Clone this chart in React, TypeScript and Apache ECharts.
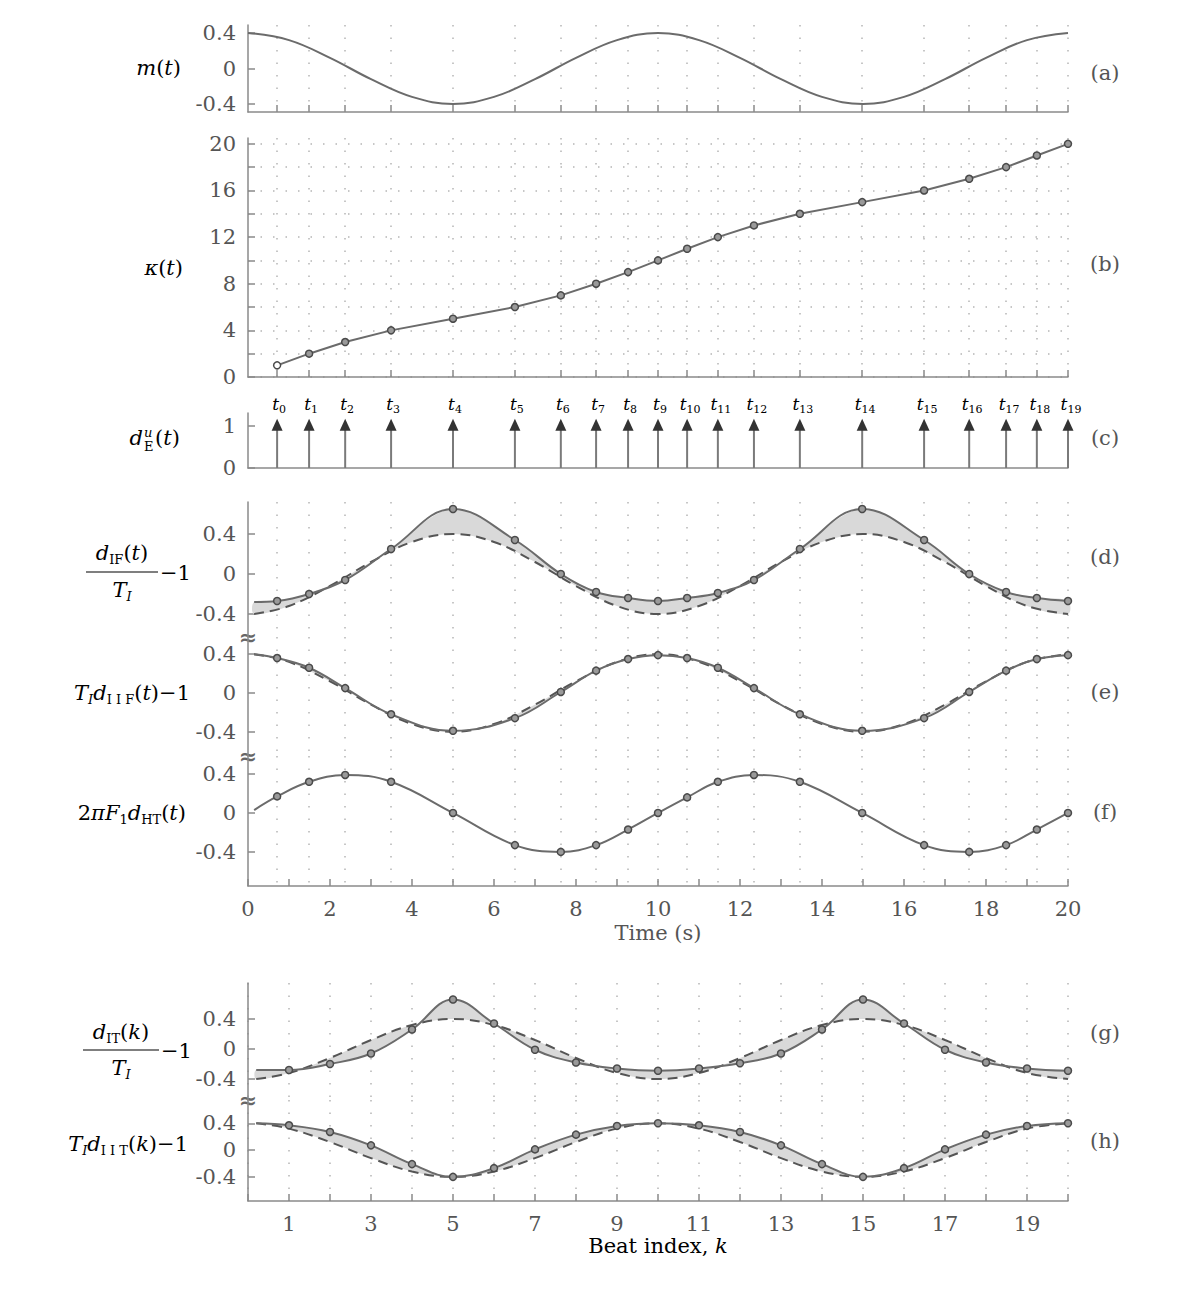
import React, { useEffect, useRef } from "react";
import * as echarts from "echarts";

// ---------------- data ----------------
const beatTimes = [0.71, 1.49, 2.37, 3.49, 5.0, 6.51, 7.63, 8.49, 9.27, 10.0, 10.71, 11.46, 12.34, 13.46, 14.98, 16.49, 17.59, 18.49, 19.24, 20.0];
const beatLabelSubs = ["0", "1", "2", "3", "4", "5", "6", "7", "8", "9", "10", "11", "12", "13", "14", "15", "16", "17", "18", "19"];
const kappaValues = [1, 2, 3, 4, 5, 6, 7, 8, 9, 10, 11, 12, 13, 14, 15, 16, 17, 18, 19, 20];
const eventValues = [1, 1, 1, 1, 1, 1, 1, 1, 1, 1, 1, 1, 1, 1, 1, 1, 1, 1, 1, 1];

// modulating signal m(t), read at whole seconds
const modTimes = [0, 1, 2, 3, 4, 5, 6, 7, 8, 9, 10, 11, 12, 13, 14, 15, 16, 17, 18, 19, 20];
const modValues = [0.4, 0.32, 0.12, -0.12, -0.32, -0.4, -0.32, -0.12, 0.12, 0.32, 0.4, 0.32, 0.12, -0.12, -0.32, -0.4, -0.32, -0.12, 0.12, 0.32, 0.4];
// dashed reference curves in panels (d)-(h)
const curveTimes = [0.15, 1, 2, 3, 4, 5, 6, 7, 8, 9, 10, 11, 12, 13, 14, 15, 16, 17, 18, 19, 20];
const dashedPos = [0.4, 0.32, 0.12, -0.12, -0.32, -0.4, -0.32, -0.12, 0.12, 0.32, 0.4, 0.32, 0.12, -0.12, -0.32, -0.4, -0.32, -0.12, 0.12, 0.32, 0.4];
const dashedNeg = [-0.4, -0.32, -0.12, 0.12, 0.32, 0.4, 0.32, 0.12, -0.12, -0.32, -0.4, -0.32, -0.12, 0.12, 0.32, 0.4, 0.32, 0.12, -0.12, -0.32, -0.4];

const curveStart = 0.15;
const dIFStart = -0.28;
const dIFValues = [-0.27, -0.2, -0.06, 0.25, 0.65, 0.34, 0.0, -0.18, -0.24, -0.27, -0.24, -0.19, -0.06, 0.25, 0.65, 0.34, 0.0, -0.18, -0.24, -0.27];
const dIIFStart = 0.4;
const dIIFValues = [0.36, 0.26, 0.05, -0.22, -0.39, -0.26, 0.01, 0.23, 0.35, 0.39, 0.36, 0.26, 0.05, -0.22, -0.39, -0.26, 0.01, 0.23, 0.35, 0.39];
const dHTStart = 0.03;
const dHTValues = [0.17, 0.32, 0.39, 0.32, 0.0, -0.33, -0.4, -0.33, -0.17, 0.0, 0.16, 0.32, 0.39, 0.32, 0.0, -0.33, -0.4, -0.33, -0.17, 0.0];

const beatIndex = [1, 2, 3, 4, 5, 6, 7, 8, 9, 10, 11, 12, 13, 14, 15, 16, 17, 18, 19, 20];
const kStart = 0.2;
const dITStart = -0.28;
const dITValues = [-0.28, -0.2, -0.06, 0.26, 0.66, 0.34, -0.01, -0.18, -0.26, -0.29, -0.26, -0.19, -0.06, 0.26, 0.66, 0.34, -0.01, -0.18, -0.26, -0.29];
const dIITStart = 0.4;
const dIITValues = [0.37, 0.27, 0.07, -0.21, -0.4, -0.27, 0.01, 0.23, 0.36, 0.4, 0.37, 0.27, 0.07, -0.21, -0.4, -0.27, 0.01, 0.23, 0.36, 0.4];
const kDashedTimes = [0.2, 1, 2, 3, 4, 5, 6, 7, 8, 9, 10, 11, 12, 13, 14, 15, 16, 17, 18, 19, 20];

// tick values / labels
const smallTicks = [-0.4, 0, 0.4];
const kappaTicks = [0, 2, 4, 6, 8, 10, 12, 14, 16, 18, 20];
const kappaLabels = [0, 4, 8, 12, 16, 20];
const eventTicks = [0, 1];
const secondTicks = [0, 1, 2, 3, 4, 5, 6, 7, 8, 9, 10, 11, 12, 13, 14, 15, 16, 17, 18, 19, 20];
const secondLabels = [0, 2, 4, 6, 8, 10, 12, 14, 16, 18, 20];
const kTicks = [0, 1, 2, 3, 4, 5, 6, 7, 8, 9, 10, 11, 12, 13, 14, 15, 16, 17, 18, 19, 20];
const kLabels = [1, 3, 5, 7, 9, 11, 13, 15, 17, 19];
const panelLetters = ["(a)", "(b)", "(c)", "(d)", "(e)", "(f)", "(g)", "(h)"];

// ---------------- styling ----------------
const FONT = "DejaVu Serif";
const TXT = "#555";
const AXIS = "#8a8a8a";
const LINE = "#6b6b6b";
const DOT = { type: [1.5, 11], color: "#b5b5b5", width: 1.5 };
const FS = 21;

const rich: any = {
  i: { fontFamily: FONT, fontStyle: "italic", fontSize: FS, color: TXT },
  n: { fontFamily: FONT, fontSize: FS, color: TXT },
  s: { fontFamily: FONT, fontSize: 13, color: TXT, padding: [13, 0, 0, 0] },
  si: { fontFamily: FONT, fontStyle: "italic", fontSize: 13, color: TXT, padding: [13, 0, 0, 0] },
};
const tRich: any = {
  i: { fontFamily: FONT, fontStyle: "italic", fontSize: 17, color: TXT },
  s: { fontFamily: FONT, fontSize: 11, color: TXT, padding: [11, 0, 0, 0] },
};
const stackRich: any = {
  u: { fontFamily: FONT, fontStyle: "italic", fontSize: 13, color: TXT, lineHeight: 14 },
  e: { fontFamily: FONT, fontSize: 13, color: TXT, lineHeight: 14 },
};

const GRID_LEFT = 248;
const GRID_W = 820;
const panels = [
  { top: 25, height: 87, min: -0.49, max: 0.49 },
  { top: 138, height: 239, min: 0, max: 20.5 },
  { top: 413, height: 55, min: 0, max: 1.3 },
  { top: 502, height: 135, min: -0.63, max: 0.72 },
  { top: 637, height: 119, min: -0.65, max: 0.577 },
  { top: 756, height: 130, min: -0.75, max: 0.585 },
  { top: 983, height: 117, min: -0.68, max: 0.88 },
  { top: 1100, height: 101, min: -0.76, max: 0.747 },
];
const letterY = [73, 264, 438, 557, 692, 812, 1033, 1141];

function fmt(v: number) {
  if (v === 0) return "0";
  return Math.abs(v) < 1 ? v.toFixed(1) : String(v);
}

function yAxisFor(i: number, ticks: number[], labels: number[], split: boolean) {
  const p = panels[i];
  return {
    type: "value",
    gridIndex: i,
    min: p.min,
    max: p.max,
    axisLine: { show: true, lineStyle: { color: AXIS, width: 1.5 } },
    axisTick: { show: true, inside: true, length: 7, customValues: ticks, lineStyle: { color: AXIS, width: 1.5 } },
    axisLabel: { show: true, customValues: labels, formatter: fmt, fontFamily: FONT, fontSize: FS, color: TXT, margin: 12 },
    splitLine: { show: split, lineStyle: DOT },
  };
}

function xAxisFor(i: number, opts: any) {
  return {
    type: "value",
    gridIndex: i,
    min: 0,
    max: 20,
    axisLine: { show: opts.line, onZero: false, lineStyle: { color: AXIS, width: 1.5 } },
    axisTick: { show: opts.tick, inside: true, length: 7, customValues: opts.ticks, lineStyle: { color: AXIS, width: 1.5 } },
    axisLabel: opts.labels
      ? { show: true, customValues: opts.labels, fontFamily: FONT, fontSize: FS, color: TXT, margin: 12 }
      : { show: false },
    splitLine: { show: opts.split, lineStyle: DOT },
  };
}

const markerStyle = { color: "#9a9a9a", borderColor: "#4a4a4a", borderWidth: 1.5 };

function solidSeries(xi: number, startX: number, startY: number, xs: number[], ys: number[]) {
  const data: any[] = [{ value: [startX, startY], symbol: "none" }];
  xs.forEach((x, j) => data.push([x, ys[j]]));
  return {
    type: "line",
    xAxisIndex: xi,
    yAxisIndex: xi,
    data,
    smooth: 0.4,
    symbol: "circle",
    symbolSize: 7,
    itemStyle: markerStyle,
    lineStyle: { color: LINE, width: 2 },
    z: 4,
  };
}

function dashedSeries(xi: number, xs: number[], ys: number[]) {
  return {
    type: "line",
    xAxisIndex: xi,
    yAxisIndex: xi,
    data: xs.map((x, j) => [x, ys[j]]),
    smooth: 0.4,
    showSymbol: false,
    lineStyle: { color: "#555", width: 2, type: [10, 6] },
    z: 3,
  };
}

function fillSeries(xi: number, startX: number, startY: number, xs: number[], ys: number[], dx: number[], dy: number[]) {
  return {
    type: "custom",
    xAxisIndex: xi,
    yAxisIndex: xi,
    data: [[0, 0]],
    silent: true,
    z: 2,
    renderItem: (params: any, api: any) => {
      const upper: number[][] = [api.coord([startX, startY])];
      xs.forEach((x, j) => upper.push(api.coord([x, ys[j]])));
      const lower: number[][] = dx.map((x, j) => api.coord([x, dy[j]])).reverse();
      return {
        type: "polygon",
        shape: { points: upper.concat(lower), smooth: 0.35 },
        style: { fill: "#d9d9d9" },
      };
    },
  };
}

function labelText(x: number, y: number, text: string, align: string, r: any = rich) {
  return { type: "text", x, y, silent: true, style: { text, rich: r, align, verticalAlign: "middle" } };
}

function buildOption() {
  const grid = panels.map((p) => ({ left: GRID_LEFT, width: GRID_W, top: p.top, height: p.height }));

  const xAxis: any[] = [
    xAxisFor(0, { line: true, tick: true, ticks: beatTimes, split: true }),
    xAxisFor(1, { line: true, tick: true, ticks: beatTimes, split: true }),
    xAxisFor(2, { line: true, tick: false, ticks: beatTimes, split: false }),
    xAxisFor(3, { line: false, tick: false, ticks: beatTimes, split: true }),
    xAxisFor(4, { line: false, tick: false, ticks: beatTimes, split: true }),
    xAxisFor(5, { line: true, tick: true, ticks: secondTicks, labels: secondLabels, split: false }),
    xAxisFor(6, { line: false, tick: false, ticks: kTicks, split: true }),
    xAxisFor(7, { line: true, tick: true, ticks: kTicks, labels: kLabels, split: true }),
    // extra axis for the beat-time grid in panel (f)
    xAxisFor(5, { line: false, tick: false, ticks: beatTimes, split: true }),
  ];

  const yAxis: any[] = [
    yAxisFor(0, smallTicks, smallTicks, false),
    yAxisFor(1, kappaTicks, kappaLabels, true),
    yAxisFor(2, eventTicks, eventTicks, false),
    yAxisFor(3, smallTicks, smallTicks, false),
    yAxisFor(4, smallTicks, smallTicks, false),
    yAxisFor(5, smallTicks, smallTicks, false),
    yAxisFor(6, smallTicks, smallTicks, false),
    yAxisFor(7, smallTicks, smallTicks, false),
  ];

  const series: any[] = [
    // (a)
    {
      type: "line",
      xAxisIndex: 0,
      yAxisIndex: 0,
      data: modTimes.map((t, j) => [t, modValues[j]]),
      smooth: 0.4,
      showSymbol: false,
      lineStyle: { color: LINE, width: 2 },
    },
    // (b)
    {
      type: "line",
      xAxisIndex: 1,
      yAxisIndex: 1,
      data: beatTimes.map((t, j) => (j === 0 ? { value: [t, kappaValues[j]], itemStyle: { color: "#fff", borderColor: "#4a4a4a", borderWidth: 1.5 } } : [t, kappaValues[j]])),
      symbol: "circle",
      symbolSize: 7,
      itemStyle: markerStyle,
      lineStyle: { color: LINE, width: 2 },
    },
    // (c) arrows
    {
      type: "custom",
      xAxisIndex: 2,
      yAxisIndex: 2,
      data: beatTimes.map((t, j) => [t, eventValues[j]]),
      clip: false,
      renderItem: (params: any, api: any) => {
        const t = api.value(0);
        const v = api.value(1);
        const p0 = api.coord([t, 0]);
        const p1 = api.coord([t, v]);
        const sub = beatLabelSubs[params.dataIndex];
        return {
          type: "group",
          children: [
            { type: "line", shape: { x1: p0[0], y1: p0[1], x2: p1[0], y2: p1[1] + 4 }, style: { stroke: "#7a7a7a", lineWidth: 2 } },
            {
              type: "polygon",
              shape: { points: [[p1[0], p1[1] - 7], [p1[0] - 5.5, p1[1] + 5], [p1[0] + 5.5, p1[1] + 5]] },
              style: { fill: "#333" },
            },
            {
              type: "text",
              x: p1[0] + (sub.length > 1 ? 3 : 2),
              y: p1[1] - 22,
              style: { text: "{i|t}{s|" + sub + "}", rich: tRich, align: "center", verticalAlign: "middle" },
            },
          ],
        };
      },
    },
    // (d)
    fillSeries(3, curveStart, dIFStart, beatTimes, dIFValues, curveTimes, dashedNeg),
    dashedSeries(3, curveTimes, dashedNeg),
    solidSeries(3, curveStart, dIFStart, beatTimes, dIFValues),
    // (e)
    fillSeries(4, curveStart, dIIFStart, beatTimes, dIIFValues, curveTimes, dashedPos),
    dashedSeries(4, curveTimes, dashedPos),
    solidSeries(4, curveStart, dIIFStart, beatTimes, dIIFValues),
    // (f)
    solidSeries(5, curveStart, dHTStart, beatTimes, dHTValues),
    // (g)
    fillSeries(6, kStart, dITStart, beatIndex, dITValues, kDashedTimes, dashedNeg),
    dashedSeries(6, kDashedTimes, dashedNeg),
    solidSeries(6, kStart, dITStart, beatIndex, dITValues),
    // (h)
    fillSeries(7, kStart, dIITStart, beatIndex, dIITValues, kDashedTimes, dashedPos),
    dashedSeries(7, kDashedTimes, dashedPos),
    solidSeries(7, kStart, dIITStart, beatIndex, dIITValues),
  ];

  const graphic: any[] = [];
  // y-axis titles
  graphic.push(labelText(181, 68, "{i|m}{n|(}{i|t}{n|)}", "right"));
  graphic.push(labelText(183, 268, "{i|κ}{n|(}{i|t}{n|)}", "right"));
  // d_E^u(t) built from three adjacent pieces
  graphic.push(labelText(143, 438, "{i|d}", "right"));
  graphic.push(labelText(144, 439, "{u|u}\n{e|E}", "left", stackRich));
  graphic.push(labelText(155, 438, "{n|(}{i|t}{n|)}", "left"));
  // (d) fraction
  graphic.push(labelText(122, 553, "{i|d}{s|IF}{n|(}{i|t}{n|)}", "center"));
  graphic.push({ type: "line", silent: true, shape: { x1: 86, y1: 572, x2: 158, y2: 572 }, style: { stroke: TXT, lineWidth: 1.3 } });
  graphic.push(labelText(122, 590, "{i|T}{si|I}", "center"));
  graphic.push(labelText(160, 573, "{n|−1}", "left"));
  // (e)
  graphic.push(labelText(190, 693, "{i|T}{si|I}{i|d}{s|I I F}{n|(}{i|t}{n|)−1}", "right"));
  // (f)
  graphic.push(labelText(186, 813, "{n|2}{i|πF}{s|1}{i|d}{s|HT}{n|(}{i|t}{n|)}", "right"));
  // (g) fraction
  graphic.push(labelText(121, 1032, "{i|d}{s|IT}{n|(}{i|k}{n|)}", "center"));
  graphic.push({ type: "line", silent: true, shape: { x1: 83, y1: 1050, x2: 159, y2: 1050 }, style: { stroke: TXT, lineWidth: 1.3 } });
  graphic.push(labelText(121, 1068, "{i|T}{si|I}", "center"));
  graphic.push(labelText(161, 1051, "{n|−1}", "left"));
  // (h)
  graphic.push(labelText(188, 1144, "{i|T}{si|I}{i|d}{s|I I T}{n|(}{i|k}{n|)−1}", "right"));

  // panel letters
  panelLetters.forEach((l, j) => {
    graphic.push({ type: "text", x: 1105, y: letterY[j], silent: true, style: { text: l, fontFamily: FONT, fontSize: FS, fill: TXT, align: "center", verticalAlign: "middle" } });
  });
  // axis breaks
  [637, 756, 1100].forEach((y) => {
    graphic.push({ type: "text", x: 248, y, silent: true, style: { text: "≈", fontFamily: FONT, fontSize: 22, fontWeight: "bold", fill: "#666", align: "center", verticalAlign: "middle" } });
  });
  // x-axis titles
  graphic.push({ type: "text", x: 658, y: 933, silent: true, style: { text: "Time (s)", fontFamily: FONT, fontSize: FS, fill: TXT, align: "center", verticalAlign: "middle" } });
  graphic.push(labelText(658, 1246, "{n|Beat index, }{i|k}", "center"));

  return { animation: false, backgroundColor: "#fff", grid, xAxis, yAxis, series, graphic };
}

export default function App() {
  const ref = useRef<HTMLDivElement>(null);
  useEffect(() => {
    document.body.style.margin = "0";
    if (!ref.current) return;
    const chart = echarts.init(ref.current, undefined, { renderer: "svg" });
    chart.setOption(buildOption());
    return () => chart.dispose();
  }, []);
  return <div ref={ref} style={{ position: "absolute", left: 0, top: 0, width: 1186, height: 1290 }} />;
}
